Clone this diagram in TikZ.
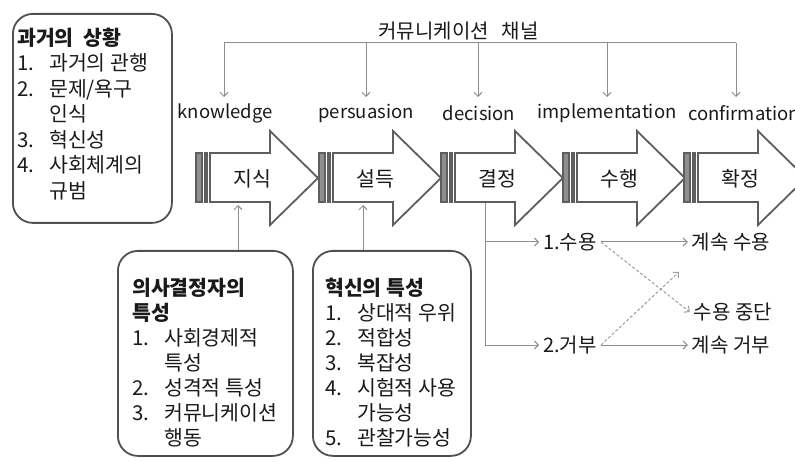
\documentclass[tikz,border=0pt]{standalone}
\usepackage{fontspec}
\setmainfont{Noto Sans CJK KR}
\usetikzlibrary{arrows.meta}
\definecolor{arrgray}{HTML}{5E5E5E}
\definecolor{linegray}{HTML}{8E8E8E}
\definecolor{boxgray}{HTML}{505050}
\definecolor{txt}{HTML}{1A1A1A}
\newcommand\li[2]{\makebox[32pt][l]{#1}#2}
\newcommand\lc[1]{\hspace*{32pt}#1}
\tikzset{
  x=1pt, y=-1pt,
  stagebody/.style={draw=arrgray, line width=1.8pt, fill=white, line join=miter},
  stripebar/.style={draw=arrgray, line width=1.6pt, fill=arrgray!70},
  stripethin/.style={draw=arrgray, line width=1.4pt, fill=white},
  stagetxt/.style={font=\fontsize{20.5}{22}\selectfont, text=txt, inner sep=0pt},
  lbl/.style={font=\fontsize{18.5}{20}\selectfont, text=txt, inner sep=0pt},
  conn/.style={draw=linegray, line width=1pt},
  tip/.style={-{Straight Barb[length=4pt,width=8pt]}},
  dconn/.style={draw=linegray!85, line width=1pt, dash pattern=on 3pt off 2pt},
  roundbox/.style={draw=boxgray, line width=1.8pt, rounded corners=20pt, fill=white, inner sep=0pt},
  listA/.style={font=\fontsize{20.5}{25.5}\selectfont, text=txt, align=left, inner sep=0pt},
  listB/.style={font=\fontsize{20.5}{25}\selectfont, text=txt, align=left, inner sep=0pt},
  outtxt/.style={font=\fontsize{20}{22}\selectfont, text=txt, inner sep=4pt},
}
\begin{document}
\begin{tikzpicture}
\useasboundingbox (0,0) rectangle (795,462);
\clip (0,0) rectangle (795,462);
\fill[white] (0,0) rectangle (795,462);

% left box: past situation
\node[roundbox, anchor=north west, minimum width=159pt, minimum height=209pt] (boxA) at (12,13) {};
\node[listA, anchor=north west] (txtA) at (17,27.5) {{\bfseries 과거의\ \ 상황}\\
\li{1.}{과거의 관행}\\
\li{2.}{문제/욕구}\\
\lc{인식}\\
\li{3.}{혁신성}\\
\li{4.}{사회체계의}\\
\lc{규범}};

% communication channel
\node[font=\fontsize{20}{22}\selectfont, text=txt, inner sep=0pt] (chan) at (458.5,31) {커뮤니케이션\hspace{13pt}채널};
\coordinate (t1) at (224,43);
\coordinate (t2) at (366,43);
\coordinate (t3) at (478,43);
\coordinate (t4) at (607,43);
\coordinate (t5) at (736,43);
\coordinate (b1) at (224,97);
\coordinate (b2) at (366,97);
\coordinate (b3) at (478,97);
\coordinate (b4) at (607,97);
\coordinate (b5) at (736,97);
\draw[conn] (t1) -- (t5);
\foreach \i in {1,...,5} \draw[conn,tip] (t\i) -- (b\i);

\node[lbl] (kn) at (225,113) {knowledge};
\node[lbl] (pe) at (366,113) {persuasion};
\node[lbl] (de) at (479,113) {decision};
\node[lbl] (im) at (607,113) {implementation};
\node[lbl, anchor=west] (co) at (688,113) {confirmation};

% stage arrows
\foreach \x/\t/\n in {196/지식/s1, 319/설득/s2, 441/결정/s3, 563/수행/s4, 684/확정/s5}{
  \filldraw[stripebar] (\x,153) rectangle (\x+6,202);
  \draw[stripethin] (\x+9,153) rectangle (\x+11,202);
  \draw[stagebody] (\x+14,153) -- (\x+74,153) -- (\x+74,131) -- (\x+122,178) -- (\x+74,225) -- (\x+74,202) -- (\x+14,202) -- cycle;
  \node[stagetxt] (\n) at (\x+56,179) {\t};
}

% decision-maker box
\node[roundbox, anchor=north west, minimum width=175pt, minimum height=205pt] (boxB) at (117,250) {};
\node[listB, anchor=north west] (txtB) at (132,277.5) {{\bfseries 의사결정자의}\\
{\bfseries 특성}\\
\li{1.}{사회경제적}\\
\lc{특성}\\
\li{2.}{성격적 특성}\\
\li{3.}{커뮤니케이션}\\
\lc{행동}};

% innovation box
\node[roundbox, anchor=north west, minimum width=158pt, minimum height=205pt] (boxC) at (312,250) {};
\node[listB, anchor=north west] (txtC) at (325,277.5) {{\bfseries 혁신의 특성}\\
\li{1.}{상대적 우위}\\
\li{2.}{적합성}\\
\li{3.}{복잡성}\\
\li{4.}{시험적 사용}\\
\lc{가능성}\\
\li{5.}{관찰가능성}};

\coordinate (u1) at (238,205);
\coordinate (u2) at (363,205);
\draw[conn,tip] (boxB.north -| u1) -- (u1);
\draw[conn,tip] (boxC.north -| u2) -- (u2);

% decision outcomes
\node[outtxt] (acc) at (570,242) {1.수용};
\node[outtxt] (rej) at (570,345) {2.거부};
\node[outtxt] (cacc) at (731,242) {계속 수용};
\node[outtxt] (stop) at (733,312) {수용 중단};
\node[outtxt] (crej) at (731,345) {계속 거부};
\coordinate (d0) at (485,203);
\coordinate (x1) at (679,272);
\draw[conn] (d0) -- (d0 |- rej);
\draw[conn,tip] (d0 |- acc) -- (acc.west);
\draw[conn,tip] (d0 |- rej) -- (rej.west);
\draw[conn,tip] (acc.east) -- (cacc.west);
\draw[conn,tip] (rej.east) -- (crej.west);
\draw[dconn,tip] (acc.east) -- (stop.west);
\draw[dconn,tip] (rej.east) -- (x1);
\end{tikzpicture}
\end{document}
